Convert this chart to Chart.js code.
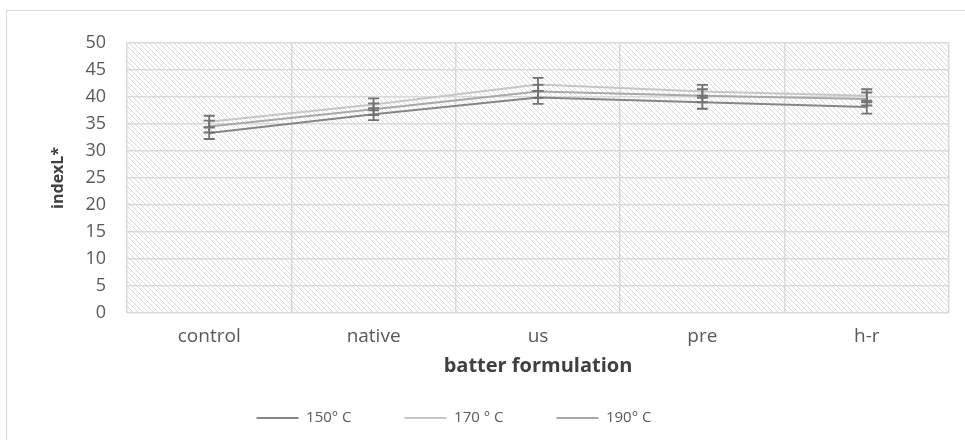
<!DOCTYPE html>
<html lang="en">
<head>
  <meta charset="UTF-8" />
  <title>indexL* by batter formulation</title>
  <script src="https://cdn.jsdelivr.net/npm/chart.js"></script>
  <style>
    body {
      margin: 0;
      background: #fff;
      width: 965px;
      height: 440px;
      overflow: hidden;
      position: relative;
      font-family: 'Open Sans', sans-serif;
    }
    .frame {
      position: absolute;
      left: 6px;
      top: 10px;
      width: 1000px;
      height: 480px;
      border: 1px solid #d9d9d9;
    }
    .chart-box {
      position: absolute;
      left: 7px;
      top: 11px;
      width: 958px;
      height: 429px;
    }
  </style>
</head>
<body>
  <div class="frame"></div>
  <div class="chart-box">
    <canvas id="lineChart"></canvas>
  </div>

<script>
  // values
  const categories = ['control', 'native', 'us', 'pre', 'h-r'];
  const seriesNames = ['150° C', '170 ° C', '190° C'];
  const s150 = [33.3, 36.8, 39.9, 39.0, 38.1];
  const s170 = [35.4, 38.6, 42.3, 41.0, 40.2];
  const s190 = [34.5, 37.7, 41.0, 40.2, 39.6];
  const err150 = [1.1, 1.1, 1.2, 1.2, 1.2];
  const err170 = [1.1, 1.1, 1.2, 1.2, 1.2];
  const err190 = [1.1, 1.1, 1.2, 1.2, 1.2];
  const yTicks = [0, 5, 10, 15, 20, 25, 30, 35, 40, 45, 50];

  const lineColors = ['#858585', '#c6c6c6', '#a8a8a8'];
  const errColor = '#727272';

  // hatched plot background
  function makeHatch() {
    const c = document.createElement('canvas');
    c.width = 5; c.height = 5;
    const g = c.getContext('2d');
    g.fillStyle = '#ffffff';
    g.fillRect(0, 0, 5, 5);
    g.strokeStyle = '#dadada';
    g.lineWidth = 1;
    g.beginPath();
    g.moveTo(0, 0); g.lineTo(5, 5);
    g.moveTo(-1, 4); g.lineTo(1, 6);
    g.moveTo(4, -1); g.lineTo(6, 1);
    g.stroke();
    return c;
  }

  const hatchBg = {
    id: 'hatchBg',
    beforeDraw(chart) {
      const { ctx, chartArea: a } = chart;
      ctx.save();
      ctx.fillStyle = ctx.createPattern(makeHatch(), 'repeat');
      ctx.fillRect(a.left, a.top, a.right - a.left, a.bottom - a.top);
      ctx.restore();
    }
  };

  // nudge the legend row left, like the original
  const legendShift = {
    id: 'legendShift',
    afterLayout(chart) {
      if (chart.legend) chart.legend.right -= 48;
    }
  };

  // vertical error bars with caps
  const errorBars = {
    id: 'errorBars',
    afterDatasetsDraw(chart) {
      const { ctx } = chart;
      const y = chart.scales.y;
      chart.data.datasets.forEach((ds, di) => {
        const meta = chart.getDatasetMeta(di);
        ds.errors.forEach((e, i) => {
          const pt = meta.data[i];
          const top = y.getPixelForValue(ds.data[i] + e);
          const bot = y.getPixelForValue(ds.data[i] - e);
          ctx.save();
          ctx.strokeStyle = errColor;
          ctx.lineWidth = 1.8;
          ctx.beginPath();
          ctx.moveTo(pt.x, top); ctx.lineTo(pt.x, bot);
          ctx.moveTo(pt.x - 5.5, top); ctx.lineTo(pt.x + 5.5, top);
          ctx.moveTo(pt.x - 5.5, bot); ctx.lineTo(pt.x + 5.5, bot);
          ctx.stroke();
          ctx.restore();
        });
      });
    }
  };

  const allSeries = [s150, s170, s190];
  const allErrors = [err150, err170, err190];

  const ctx = document.getElementById('lineChart').getContext('2d');
  const lineChart = new Chart(ctx, {
    type: 'line',
    data: {
      labels: categories,
      datasets: allSeries.map((s, i) => ({
        label: seriesNames[i],
        data: s,
        errors: allErrors[i],
        borderColor: lineColors[i],
        backgroundColor: lineColors[i],
        borderWidth: 2,
        pointRadius: 0,
        tension: 0,
        fill: false
      }))
    },
    options: {
      responsive: true,
      maintainAspectRatio: false,
      animation: false,
      layout: { padding: { top: 22, right: 16, bottom: 4.5, left: 0 } },
      plugins: {
        tooltip: { enabled: false },
        legend: {
          position: 'bottom',
          labels: {
            usePointStyle: true,
            pointStyle: 'line',
            pointStyleWidth: 42,
            padding: 53,
            color: '#595959',
            font: { family: 'Open Sans', size: 15 }
          }
        }
      },
      scales: {
        x: {
          offset: true,
          grid: { offset: true, color: '#d9d9d9', lineWidth: 1.5, drawTicks: false },
          border: { display: false },
          ticks: { padding: 12, color: '#595959', font: { family: 'Open Sans', size: 19 } },
          title: {
            display: true,
            text: 'batter formulation',
            color: '#404040',
            padding: { top: 0, bottom: -20.5 },
            font: { family: 'Open Sans', size: 20, weight: 'bold' }
          },
          afterFit(scale) { scale.height = 44.5; }
        },
        y: {
          min: 0,
          max: 50,
          afterBuildTicks(scale) { scale.ticks = yTicks.map(v => ({ value: v })); },
          grid: { color: '#d9d9d9', lineWidth: 1.5, drawTicks: false },
          border: { display: false },
          ticks: { padding: 21, color: '#595959', font: { family: 'Open Sans', size: 18 } },
          title: {
            display: true,
            text: 'indexL*',
            color: '#404040',
            padding: { top: 42, bottom: 0 },
            font: { family: 'Open Sans', size: 16, weight: 'bold' }
          },
          afterFit(scale) { scale.width = 120; }
        }
      }
    },
    plugins: [hatchBg, legendShift, errorBars]
  });
</script>
</body>
</html>
